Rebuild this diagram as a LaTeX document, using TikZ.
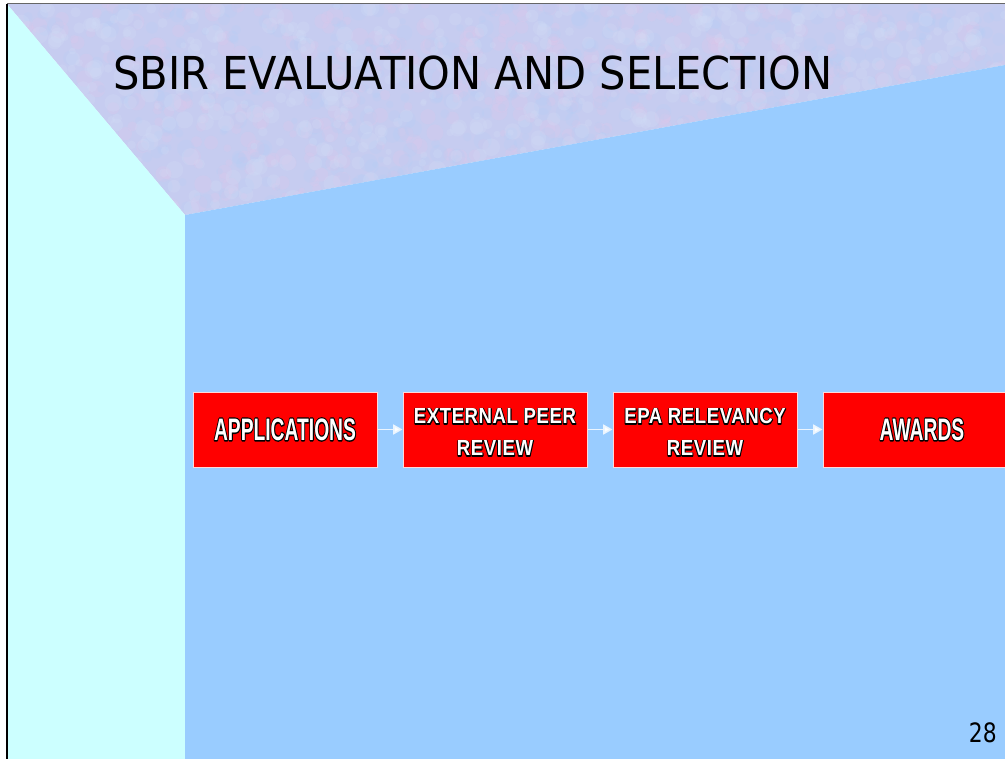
\documentclass[tikz,border=0pt]{standalone}
\usepackage{fontspec}
\setmainfont{DejaVu Sans}
\newfontfamily\boxfont{Liberation Sans}
\usetikzlibrary{arrows.meta}
\definecolor{leftcyan}{HTML}{CCFFFF}
\definecolor{mainblue}{HTML}{99CCFF}
\definecolor{toptex}{RGB}{198,204,240}
\definecolor{texpink}{RGB}{226,198,234}
\definecolor{texblue}{RGB}{180,206,246}
\definecolor{texlight}{RGB}{212,224,248}
\definecolor{boxred}{HTML}{FF0000}
\tikzset{
  stepbox/.style={draw=white!85!red, line width=0.75pt, fill=boxred, minimum width=138pt, minimum height=56.25pt, inner sep=0pt, text=white, align=center},
  bigtxt/.style={font=\boxfont\bfseries\fontsize{23.3}{24}\selectfont},
  smalltxt/.style={font=\boxfont\bfseries\fontsize{16.4}{24}\selectfont},
  flow/.style={draw=white!80!mainblue, line width=1.2pt, -{Triangle[width=7.5pt,length=7pt,fill=white]}, shorten >=0pt}
}
\newcommand{\outl}[2]{\rlap{\special{pdf:literal direct 0 0 0 RG 1 Tr #1 w 1 j}#2\special{pdf:literal direct 0 Tr 1 w}}#2}
\newcommand{\bigline}[1]{\scalebox{0.62}[1]{\outl{2.0}{#1}}}
\newcommand{\smline}[1]{\scalebox{0.85}[1]{\outl{1.6}{\addfontfeature{LetterSpace=3}#1}}}
\newcommand{\twolines}[2]{\raisebox{-3pt}[\height][\depth]{\begin{tabular}{@{}c@{}}\smline{#1}\\\smline{#2}\end{tabular}}}
\begin{document}
\begin{tikzpicture}[x=0.75pt,y=-0.75pt]
\useasboundingbox (0,0) rectangle (1005,759);
\clip (0,0) rectangle (1005,759);
\fill[white] (0,0) rectangle (1005,759);
% background planes
\begin{scope}
\clip (7,4) -- (1005,4) -- (1005,65) -- (185,215) -- cycle;
\fill[toptex] (7,4) rectangle (1005,215);
\pgfmathsetseed{11}
\foreach \c in {texpink,texblue,texlight}{
  \foreach \i in {1,...,600}{
    \pgfmathsetmacro{\px}{7+998*rnd}
    \pgfmathsetmacro{\py}{4+211*rnd}
    \pgfmathsetmacro{\pr}{3+6*rnd}
    \fill[\c, opacity=0.22] (\px,\py) circle[radius=\pr*0.75pt];
  }
}
\end{scope}
\fill[leftcyan] (7,4) -- (185,215) -- (185,759) -- (7,759) -- cycle;
\fill[mainblue] (185,215) -- (1005,65) -- (1005,759) -- (185,759) -- cycle;
% frame lines
\draw[black!60, line width=0.75pt] (7,4) -- (1005,4);
\draw[black, line width=0.9pt] (7,4) -- (7,759);
% title
\node[anchor=base west, inner sep=0pt, font=\fontsize{34}{40}\selectfont] (title) at (113,90) {\scalebox{0.918}[1]{SBIR EVALUATION AND SELECTION}};
% boxes
\node[stepbox, bigtxt] (app) at (285,429.5) {\bigline{APPLICATIONS}};
\node[stepbox, smalltxt] (peer) at (495,429.5) {\twolines{EXTERNAL PEER}{REVIEW}};
\node[stepbox, smalltxt] (epa) at (705,429.5) {\twolines{EPA RELEVANCY}{REVIEW}};
\node[stepbox, bigtxt, minimum width=148.5pt] (awd) at (922,429.5) {\bigline{AWARDS}};
% connectors
\draw[flow] (app) -- (peer);
\draw[flow] (peer) -- (epa);
\draw[flow] (epa) -- (awd);
% page number
\node[anchor=base east, inner sep=0pt, font=\fontsize{20}{24}\selectfont] (pg) at (997,742) {\scalebox{0.82}[1]{28}};
\end{tikzpicture}
\end{document}
